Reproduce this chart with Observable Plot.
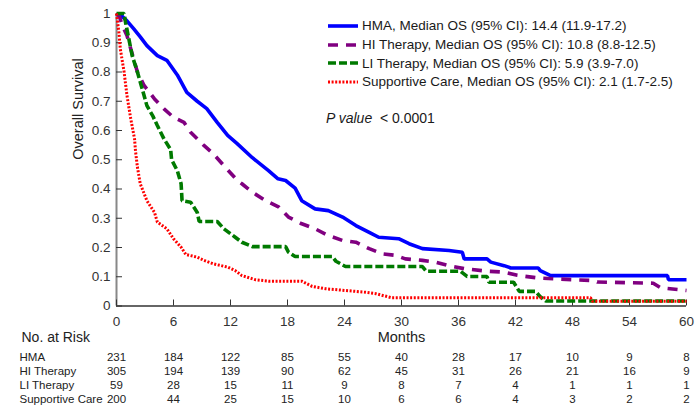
<!DOCTYPE html>
<html><head><meta charset="utf-8">
<script src="https://cdn.jsdelivr.net/npm/d3@7"></script>
<script src="https://cdn.jsdelivr.net/npm/@observablehq/plot@0.6"></script>
<style>
body{margin:0;background:#fff;}
#wrap{position:relative;width:698px;height:420px;font-family:"Liberation Sans",Arial,sans-serif;}
#legend{position:absolute;left:328px;top:16.7px;font-size:13.5px;color:#1a1a1a;}
.row{display:flex;align-items:center;height:18.6px;white-space:nowrap;}
.row svg{margin-right:4px;flex:none;}
#pval{margin-top:19px;margin-left:-2px;font-size:14px;white-space:nowrap;}
</style></head><body><div id="wrap"><div id="chart"></div><div id="legend"></div></div>
<script>
// ---- data ----
const seriesNames = ["HMA", "HI Therapy", "LI Therapy", "Supportive Care"];
const legendLabels = [
  "HMA, Median OS (95% CI): 14.4 (11.9-17.2)",
  "HI Therapy, Median OS (95% CI): 10.8 (8.8-12.5)",
  "LI Therapy, Median OS (95% CI): 5.9 (3.9-7.0)",
  "Supportive Care, Median OS (95% CI): 2.1 (1.7-2.5)"
];
const hmaMonths = [0,0.6,1.1,1.8,2.5,3.2,4.3,5.3,6.4,7.4,8.5,9.5,10.6,11.7,12.7,14.3,16,17,17.8,18.8,19.5,20.9,22.3,23.8,25.2,26.6,27.6,29.7,30.8,32.2,35,36.4,36.6,39,39.4,40.8,41.5,44.4,44.6,45.7,58,58.1,60];
const hmaSurv   = [1,0.99,0.975,0.948,0.92,0.89,0.856,0.84,0.79,0.73,0.70,0.675,0.628,0.583,0.555,0.507,0.463,0.435,0.429,0.403,0.36,0.332,0.326,0.304,0.275,0.252,0.235,0.23,0.213,0.196,0.19,0.184,0.161,0.161,0.15,0.138,0.13,0.13,0.121,0.104,0.104,0.09,0.09];
const hiMonths = [0,0.3,0.6,1.1,1.6,2.2,2.9,4,5,6,7.1,7.8,9.2,10.2,11.3,12.7,13.2,14.3,15.7,17.1,18.1,19.5,20.9,22.3,23.8,25.2,26.6,28,29.4,30.4,32.2,33.6,35,36.7,39,40.7,42.2,44.3,46,50.2,50.6,56.5,57.3,59.4,60];
const hiSurv   = [1,0.99,0.96,0.925,0.868,0.80,0.754,0.708,0.674,0.645,0.628,0.594,0.549,0.52,0.48,0.43,0.418,0.389,0.36,0.338,0.304,0.281,0.264,0.241,0.224,0.218,0.196,0.178,0.173,0.161,0.156,0.15,0.138,0.127,0.119,0.116,0.105,0.096,0.093,0.087,0.082,0.078,0.062,0.055,0.053];
const liMonths = [0,0.8,0.95,1.3,1.65,2.2,2.7,3.2,3.8,4.3,5,5.7,5.8,6.4,6.8,6.9,7.8,8.5,8.7,10.6,11.3,12.5,13.2,14.3,17.8,18.1,18.8,22.7,23.1,24.1,32.2,32.6,36.2,36.9,39,39.2,41.8,42.4,44.1,44.6,45.2,60];
const liSurv   = [1,1,0.97,0.913,0.856,0.80,0.743,0.685,0.651,0.617,0.571,0.535,0.50,0.463,0.418,0.36,0.355,0.32,0.289,0.289,0.264,0.235,0.218,0.203,0.203,0.184,0.169,0.169,0.153,0.135,0.135,0.119,0.119,0.101,0.101,0.081,0.081,0.05,0.05,0.032,0.017,0.017];
const scMonths = [0,0.25,0.4,0.8,1.1,1.5,1.9,2.0,2.2,2.5,3.2,4,4.3,5.3,6,6.8,7.3,8.5,9.2,10.2,11.7,12.5,13.2,14.6,16,19.5,20.6,22,24.1,26.2,27.3,29,49.9,50.1,60];
const scSurv   = [1,0.936,0.879,0.80,0.72,0.64,0.571,0.53,0.475,0.418,0.36,0.32,0.287,0.264,0.23,0.201,0.176,0.167,0.156,0.144,0.133,0.121,0.104,0.09,0.085,0.085,0.067,0.059,0.053,0.047,0.042,0.028,0.028,0.016,0.016];
const riskMonths = [0,6,12,18,24,30,36,42,48,54,60];
const riskHMA = [231,184,122,85,55,40,28,17,10,9,8];
const riskHI  = [305,194,139,90,62,45,31,26,21,16,9];
const riskLI  = [59,28,15,11,9,8,7,4,1,1,1];
const riskSC  = [200,44,25,15,10,6,6,4,3,2,2];
const xTicks = [0,6,12,18,24,30,36,42,48,54,60];
const yTicks = [0,0.1,0.2,0.3,0.4,0.5,0.6,0.7,0.8,0.9,1];

// ---- styles ----
const styles = [
  {stroke:"#0000ff", strokeWidth:3.6, dash:null},
  {stroke:"#800080", strokeWidth:3.6, dash:"10,8"},
  {stroke:"#007a00", strokeWidth:3.6, dash:"8,3"},
  {stroke:"#ff0000", strokeWidth:3, dash:"2,1.6"}
];
const seriesData = [[hmaMonths,hmaSurv],[hiMonths,hiSurv],[liMonths,liSurv],[scMonths,scSurv]]
  .map(([m,s]) => m.map((v,i) => ({month:v, surv:s[i]})));
const riskRows = [riskHMA, riskHI, riskLI, riskSC];

const marks = [
  Plot.ruleX([0], {stroke:"#888", strokeWidth:2}),
  Plot.ruleY([0], {stroke:"#333", strokeWidth:1.5}),
  Plot.axisY(yTicks, {tickSize:-6, tickPadding:12, tickFormat:d=>`${d}`, label:null, fontSize:13.5, fill:"#333", stroke:"#333"}),
  Plot.axisX(xTicks, {tickSize:-6, tickPadding:16, tickFormat:d=>`${d}`, label:null, fontSize:13.5, fill:"#333", stroke:"#333"}),
  Plot.text(["Overall Survival"], {frameAnchor:"left", dx:-38, rotate:-90, fontSize:14.5, fill:"#222"}),
  Plot.text(["Months"], {frameAnchor:"bottom", dy:36, fontSize:14.5, fill:"#222"}),
  Plot.text(["No. at Risk"], {frameAnchor:"bottom-left", dx:-95, dy:36, textAnchor:"start", fontSize:14, fill:"#222"})
];
seriesData.forEach((d,i) => {
  const st = styles[i];
  marks.push(Plot.line(d, {x:"month", y:"surv", stroke:st.stroke, strokeWidth:st.strokeWidth, strokeDasharray:st.dash, strokeLinejoin:"miter", strokeLinecap:"butt"}));
});
riskRows.forEach((row,i) => {
  const dy = 54.5 + 14.3*i;
  marks.push(Plot.text([seriesNames[i]], {frameAnchor:"bottom-left", dx:-97, dy, textAnchor:"start", fontSize:11.5, fill:"#222"}));
  marks.push(Plot.text(row.map((v,j)=>({m:riskMonths[j], v})), {x:"m", frameAnchor:"bottom", dy, text:d=>`${d.v}`, fontSize:11.5, fill:"#222"}));
});

const chart = Plot.plot({
  width:698, height:420,
  marginLeft:116, marginRight:12, marginTop:13, marginBottom:114.5,
  x:{domain:[0,60]}, y:{domain:[0,1]},
  style:{fontFamily:"'Liberation Sans', Arial, sans-serif", background:"#fff", color:"#222"},
  marks
});
document.getElementById("chart").appendChild(chart);

// ---- legend ----
const lg = document.getElementById("legend");
legendLabels.forEach((lab,i) => {
  const st = styles[i];
  const row = document.createElement("div");
  row.className = "row";
  row.innerHTML = `<svg width="30" height="8"><line x1="0" y1="4" x2="30" y2="4" stroke="${st.stroke}" stroke-width="${st.strokeWidth}" ${st.dash?`stroke-dasharray="${st.dash}"`:""}/></svg><span>${lab}</span>`;
  lg.appendChild(row);
});
const pv = document.createElement("div");
pv.id = "pval";
pv.innerHTML = `<i>P value</i>&nbsp; &lt; 0.0001`;
lg.appendChild(pv);
</script></body></html>
